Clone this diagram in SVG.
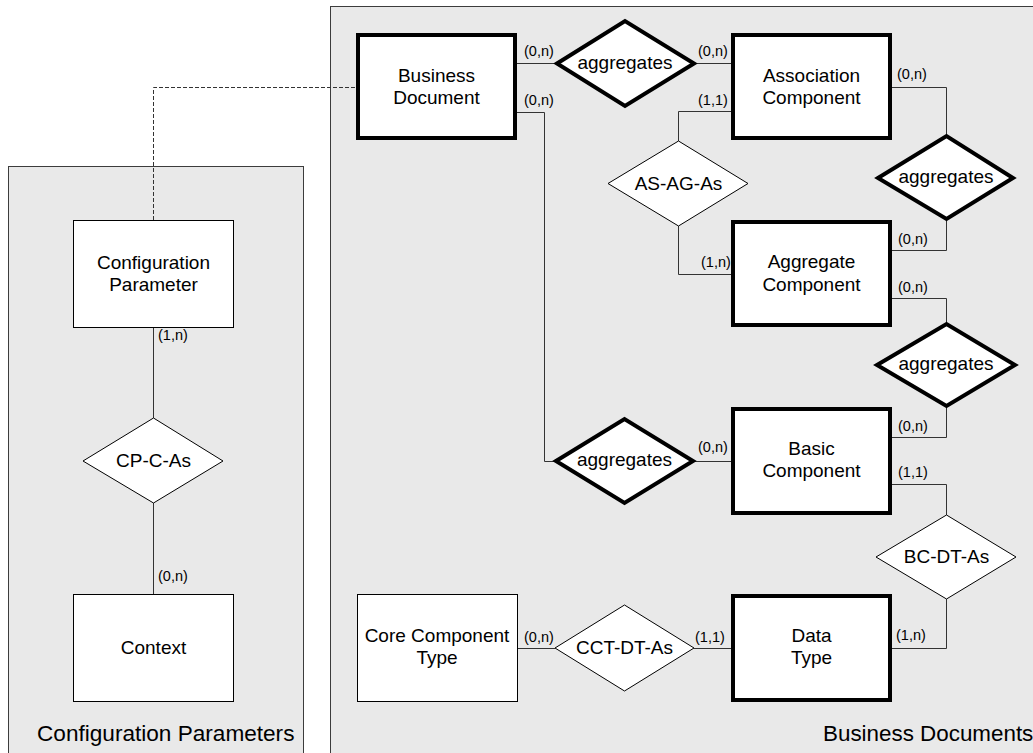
<svg xmlns="http://www.w3.org/2000/svg" width="1033" height="753" viewBox="0 0 1033 753">
<style>
text{font-family:"Liberation Sans",Arial,sans-serif;fill:#000}
.nt{font-size:19px;text-anchor:middle}
.card{font-size:14.5px}
.title{font-size:22.6px}
.panel{fill:#e9e9e9;stroke:#3c3c3c;stroke-width:1}
.ent{fill:#fff;stroke:#000;stroke-width:1}
.entw{fill:#fff;stroke:#000;stroke-width:4}
.rel{fill:#fff;stroke:#000;stroke-width:1}
.relw{fill:#fff;stroke:#000;stroke-width:4;stroke-linejoin:miter}
.c{fill:none;stroke:#333;stroke-width:1}
.d{fill:none;stroke:#333;stroke-width:1;stroke-dasharray:4 2}
</style>
<rect width="1033" height="753" fill="#fff"/>
<g id="panel-config">
<rect class="panel" x="8.5" y="166.5" width="295" height="600"/>
<text class="title" x="37" y="741">Configuration Parameters</text>
</g>
<g id="panel-business">
<rect class="panel" x="330.5" y="6.5" width="720" height="760"/>
<text class="title" x="823" y="741" style="font-size:22.4px">Business Documents</text>
</g>
<g id="connectors">
<path class="d" d="M153.5,220 V87.5 H356"/>
<path class="c" d="M153.5,327 V418"/>
<path class="c" d="M153.5,503 V594"/>
<path class="c" d="M517,63.5 H557"/>
<path class="c" d="M694,63.5 H731"/>
<path class="c" d="M517,112.5 H544.5 V461.5 H556"/>
<path class="c" d="M693,461.5 H731"/>
<path class="c" d="M731,111.5 H678.5 V141"/>
<path class="c" d="M678.5,226 V274.5 H731"/>
<path class="c" d="M892,87.5 H946.5 V136"/>
<path class="c" d="M946.5,219 V250.5 H892"/>
<path class="c" d="M892,298.5 H946.5 V324"/>
<path class="c" d="M946.5,406 V437.5 H892"/>
<path class="c" d="M892,484.5 H946.5 V515"/>
<path class="c" d="M946.5,599 V648.5 H892"/>
<path class="c" d="M517,648.5 H555"/>
<path class="c" d="M694,648.5 H731"/>
<text class="card" x="524" y="56">(0,n)</text>
<text class="card" x="524" y="105">(0,n)</text>
<text class="card" x="698" y="56">(0,n)</text>
<text class="card" x="698" y="105">(1,1)</text>
<text class="card" x="897" y="79">(0,n)</text>
<text class="card" x="898" y="244">(0,n)</text>
<text class="card" x="701" y="267">(1,n)</text>
<text class="card" x="898" y="292">(0,n)</text>
<text class="card" x="898" y="431">(0,n)</text>
<text class="card" x="898" y="477">(1,1)</text>
<text class="card" x="698" y="452">(0,n)</text>
<text class="card" x="896" y="640">(1,n)</text>
<text class="card" x="695" y="642">(1,1)</text>
<text class="card" x="524" y="642">(0,n)</text>
<text class="card" x="158" y="340">(1,n)</text>
<text class="card" x="158" y="581">(0,n)</text>
</g>
<g id="config-parameter">
<rect class="ent" x="73.5" y="220.5" width="160" height="107"/>
<text class="nt" x="153.5" y="269">Configuration</text>
<text class="nt" x="153.5" y="291">Parameter</text>
</g>
<g id="cp-c-as">
<polygon class="rel" points="83,461 153.5,418 223,461 153.5,503"/>
<text class="nt" x="153.5" y="467">CP-C-As</text>
</g>
<g id="context">
<rect class="ent" x="73.5" y="594.5" width="160" height="107"/>
<text class="nt" x="153.5" y="654">Context</text>
</g>
<g id="business-document">
<rect class="entw" x="358" y="35" width="157" height="103"/>
<text class="nt" x="436.5" y="82">Business</text>
<text class="nt" x="436.5" y="104">Document</text>
</g>
<g id="aggregates-1">
<polygon class="relw" points="557,63.5 625,21 694,63.5 625,106"/>
<text class="nt" x="625" y="68.5">aggregates</text>
</g>
<g id="association-component">
<rect class="entw" x="733" y="35" width="157" height="103"/>
<text class="nt" x="811.5" y="82">Association</text>
<text class="nt" x="811.5" y="104">Component</text>
</g>
<g id="as-ag-as">
<polygon class="rel" points="608,183.5 678.5,141 748,183.5 678.5,226"/>
<text class="nt" x="678.5" y="189.5">AS-AG-As</text>
</g>
<g id="aggregates-2">
<polygon class="relw" points="878,178 946.5,136 1013,178 946.5,219"/>
<text class="nt" x="946" y="183">aggregates</text>
</g>
<g id="aggregate-component">
<rect class="entw" x="733" y="222" width="157" height="103"/>
<text class="nt" x="811.5" y="268">Aggregate</text>
<text class="nt" x="811.5" y="291">Component</text>
</g>
<g id="aggregates-3">
<polygon class="relw" points="877,365 946.5,324 1015,365 946.5,406"/>
<text class="nt" x="946" y="370">aggregates</text>
</g>
<g id="aggregates-4">
<polygon class="relw" points="556,461 624.5,419 693,461 624.5,503"/>
<text class="nt" x="624.5" y="466">aggregates</text>
</g>
<g id="basic-component">
<rect class="entw" x="733" y="409" width="157" height="104"/>
<text class="nt" x="811.5" y="455">Basic</text>
<text class="nt" x="811.5" y="477">Component</text>
</g>
<g id="bc-dt-as">
<polygon class="rel" points="876,557 946.5,515 1016,557 946.5,599"/>
<text class="nt" x="946.5" y="563">BC-DT-As</text>
</g>
<g id="core-component-type">
<rect class="ent" x="357.5" y="594.5" width="160" height="107"/>
<text class="nt" x="437" y="642">Core Component</text>
<text class="nt" x="437" y="664">Type</text>
</g>
<g id="cct-dt-as">
<polygon class="rel" points="555,648 624.5,605 694,648 624.5,691"/>
<text class="nt" x="624.5" y="654">CCT-DT-As</text>
</g>
<g id="data-type">
<rect class="entw" x="733" y="596" width="157" height="104"/>
<text class="nt" x="811.5" y="642">Data</text>
<text class="nt" x="811.5" y="664">Type</text>
</g>
</svg>
